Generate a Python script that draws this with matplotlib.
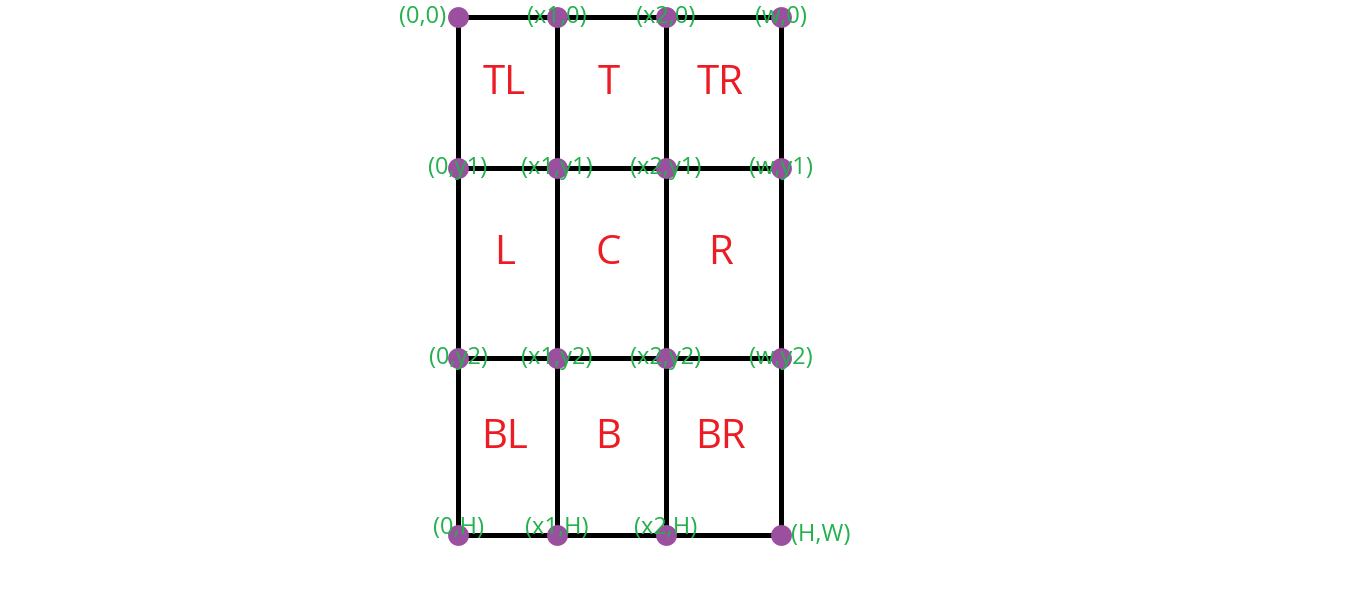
import matplotlib
matplotlib.use("Agg")
import matplotlib.pyplot as plt

# grid node positions (pixel space of the drawing)
col_x = [458, 557, 666, 781]
row_y = [17, 168, 358, 535]

# corner labels, row by row
node_labels = [
    ["(0,0)", "(x1,0)", "(x2,0)", "(w,0)"],
    ["(0,y1)", "(x1,y1)", "(x2,y1)", "(w,y1)"],
    ["(0,y2)", "(x1,y2)", "(x2,y2)", "(w,y2)"],
    ["(0,H)", "(x1,H)", "(x2,H)", "(H,W)"],
]

# region names, row by row
region_labels = [
    ["TL", "T", "TR"],
    ["L", "C", "R"],
    ["BL", "B", "BR"],
]

GREEN = "#22b14c"
RED = "#ed1c24"
PURPLE = "#9b4f9f"
FONT = ["Open Sans", "DejaVu Sans"]

fig = plt.figure(figsize=(13.6, 6.12), dpi=100)
ax = fig.add_axes([0, 0, 1, 1])
ax.set_xlim(0, 1360)
ax.set_ylim(612, 0)
ax.axis("off")

# grid lines
for y in row_y:
    ax.plot([col_x[0], col_x[-1]], [y, y], color="black", lw=3.6, solid_capstyle="projecting", zorder=1)
for x in col_x:
    ax.plot([x, x], [row_y[0], row_y[-1]], color="black", lw=3.6, solid_capstyle="projecting", zorder=1)

# nodes
for y in row_y:
    ax.plot(col_x, [y] * len(col_x), "o", color=PURPLE, ms=15, mec="none", zorder=2)

# node labels
for i, y in enumerate(row_y):
    for j, x in enumerate(col_x):
        txt = node_labels[i][j]
        ha, dx = "center", 0
        if i == 0 and j == 0:
            ha, dx = "right", -12
        elif i == len(row_y) - 1 and j == len(col_x) - 1:
            ha, dx = "left", 10
        dy = -7 if i == len(row_y) - 1 and j < len(col_x) - 1 else 0
        ax.text(x + dx, y + dy, txt, ha=ha, va="center", fontsize=17, color=GREEN,
                family=FONT, zorder=3)

# region labels
for i in range(len(region_labels)):
    cy = (row_y[i] + row_y[i + 1]) / 2 - 9
    for j in range(len(region_labels[i])):
        cx = (col_x[j] + col_x[j + 1]) / 2 - 3
        ax.text(cx, cy, region_labels[i][j], ha="center", va="center", fontsize=29,
                color=RED, family=FONT, zorder=3)

fig.savefig("out.png", dpi=100)
